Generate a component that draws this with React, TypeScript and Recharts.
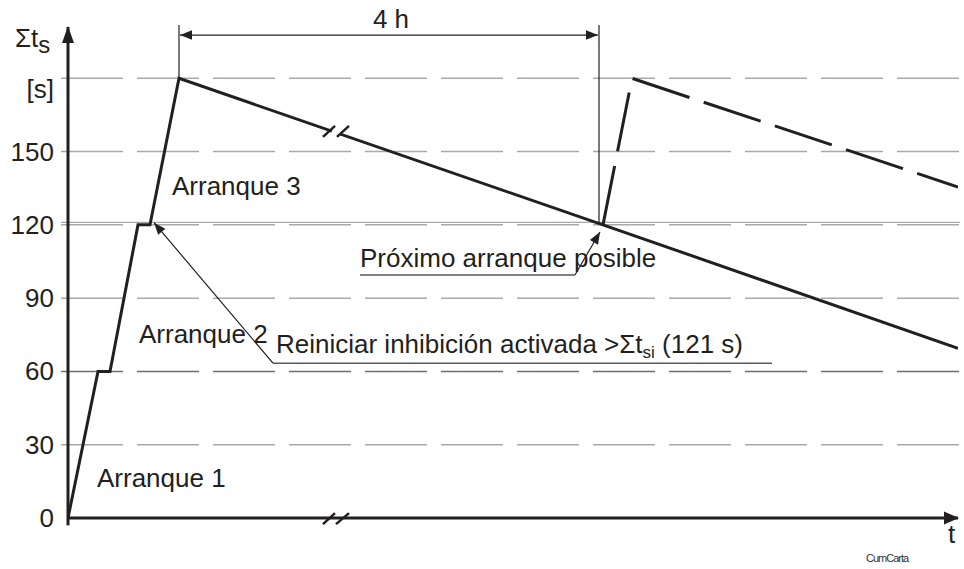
import React from 'react';
import { ComposedChart, Line, XAxis, YAxis, ReferenceLine, ReferenceDot } from 'recharts';

// time axis has no real scale (it is broken), so t is in arbitrary units
const mainTime = [0, 3.0, 4.2, 7.0, 8.2, 11.1, 53.5, 89.0];
const mainSum = [0, 60, 60, 120, 120, 180, 120, 69.5];
const nextTime = [53.5, 56.4, 89.0];
const nextSum = [120, 180, 135.5];
const yTicks = [0, 30, 60, 90, 120, 150, 180];
const gridValues = [30, 60, 90, 120, 150, 180];
const restartLimit = 121;

const mainData = mainTime.map((t, i) => ({ t, v: mainSum[i] }));
const nextData = nextTime.map((t, i) => ({ t, v: nextSum[i] }));

const ink = '#231f20';
const font = '"Liberation Sans", Arial, Helvetica, sans-serif';
const fs = 26;

function head(tx: number, ty: number, fx: number, fy: number, color: string, len = 12, half = 4.7) {
  const a = Math.atan2(ty - fy, tx - fx);
  const bx = tx - len * Math.cos(a);
  const by = ty - len * Math.sin(a);
  const nx = -Math.sin(a) * half;
  const ny = Math.cos(a) * half;
  return <polygon points={`${tx},${ty} ${bx + nx},${by + ny} ${bx - nx},${by - ny}`} fill={color} />;
}

const arrow = (opts: { start?: boolean; end?: boolean; color?: string; width?: number; len?: number; half?: number }) => (p: any) => {
  const { x1, y1, x2, y2 } = p;
  const c = opts.color || ink;
  return (
    <g>
      <line x1={x1} y1={y1} x2={x2} y2={y2} stroke={c} strokeWidth={opts.width || 1.2} />
      {opts.end && head(x2, y2, x1, y1, c, opts.len, opts.half)}
      {opts.start && head(x1, y1, x2, y2, c, opts.len, opts.half)}
    </g>
  );
};

const seg = (key: string, a: [number, number], b: [number, number], stroke: string, width: number, extra: any = {}) => (
  <ReferenceLine
    key={key}
    segment={[{ x: a[0], y: a[1] }, { x: b[0], y: b[1] }]}
    stroke={stroke}
    strokeWidth={width}
    ifOverflow="visible"
    {...extra}
  />
);

const note = (key: string, x: number, y: number, render: (cx: number, cy: number) => any) => (
  <ReferenceDot key={key} x={x} y={y} r={0} ifOverflow="visible" shape={(p: any) => render(p.cx, p.cy)} />
);

const YTick = (p: any) => {
  const v = p.payload.value;
  return (
    <text x={p.x} y={p.y} dy={v === 180 ? 20 : 9} textAnchor="end" fontSize={fs} fontFamily={font} fill={ink}>
      {v === 180 ? '[s]' : v}
    </text>
  );
};

export default function App() {
  return (
    <div style={{ position: 'absolute', left: 0, top: 0, background: '#fff' }}>
      <ComposedChart width={964} height={569} margin={{ top: 27, right: 6, bottom: 0, left: 0 }}>
        <XAxis
          dataKey="t"
          type="number"
          domain={[0, 89]}
          allowDataOverflow
          height={51}
          tick={false}
          tickLine={false}
          axisLine={{ stroke: ink, strokeWidth: 3 }}
        />
        <YAxis
          type="number"
          domain={[0, 201]}
          allowDataOverflow
          ticks={yTicks}
          interval={0}
          width={68}
          tickLine={false}
          tickMargin={8}
          tick={<YTick />}
          axisLine={{ stroke: ink, strokeWidth: 3 }}
        />

        {gridValues.map((g) =>
          seg('g' + g, [-0.7, g], [89.2, g], g === 60 ? '#6d6e71' : '#a7a9ac', 1.5, { strokeDasharray: '62 14' })
        )}
        {seg('limit', [-0.7, restartLimit], [89.2, restartLimit], '#a7a9ac', 1.2)}

        <Line data={mainData} dataKey="v" type="linear" stroke={ink} strokeWidth={3} dot={false} isAnimationActive={false} />
        <Line
          data={nextData}
          dataKey="v"
          type="linear"
          stroke={ink}
          strokeWidth={3}
          strokeDasharray="60 15"
          dot={false}
          isAnimationActive={false}
        />

        {/* axis arrows and breaks */}
        {seg('yext', [0, 0], [0, -3], ink, 3)}
        {note('yhead', 0, 201, (cx, cy) => <polygon points={`${cx},${cy - 1} ${cx - 6},${cy + 16} ${cx + 6},${cy + 16}`} fill={ink} />)}
        {note('xhead', 89, 0, (cx, cy) => <polygon points={`${cx + 1},${cy} ${cx - 14},${cy - 6.5} ${cx - 14},${cy + 6.5}`} fill={ink} />)}
        {seg('xgap', [26.0, 0], [27.5, 0], '#fff', 6)}
        {seg('xs1', [25.5, -2.5], [26.7, 2.0], ink, 2.5)}
        {seg('xs2', [26.8, -2.5], [28.1, 2.0], ink, 2.5)}
        {seg('lgap', [26.4, 158.4], [27.2, 157.2], '#fff', 7)}
        {seg('ls1', [25.5, 156.0], [26.7, 160.5], ink, 2.5)}
        {seg('ls2', [26.9, 156.0], [28.1, 160.5], ink, 2.5)}

        {/* 4 h dimension */}
        {seg('d1', [11.1, 180], [11.1, 201.8], ink, 1.2)}
        {seg('d2', [53.1, 120], [53.1, 201.8], ink, 1.2)}
        <ReferenceLine
          segment={[{ x: 11.2, y: 197.7 }, { x: 53.0, y: 197.7 }]}
          ifOverflow="visible"
          shape={arrow({ start: true, end: true })}
        />

        {/* leaders */}
        <ReferenceLine
          segment={[{ x: 20.5, y: 63.4 }, { x: 8.6, y: 120.9 }]}
          ifOverflow="visible"
          shape={arrow({ end: true, width: 1.2 })}
        />
        {seg('u1', [20.5, 63.4], [70.4, 63.4], '#58595b', 1.5)}
        <ReferenceLine
          segment={[{ x: 50.7, y: 99.5 }, { x: 53.2, y: 117.1 }]}
          ifOverflow="visible"
          shape={arrow({ end: true, width: 1.2 })}
        />
        {seg('u2', [29.2, 99.5], [50.7, 99.5], '#58595b', 1.5)}

        {/* texts */}
        {note('ylab', -5.3, 192.8, (cx, cy) => (
          <text x={cx} y={cy} fontSize={fs} fontFamily={font} fill={ink}>
            Σt<tspan dy={6} fontSize={24}>s</tspan>
          </text>
        ))}
        {note('xlab', 88.0, -10.2, (cx, cy) => (
          <text x={cx} y={cy} fontSize={fs} fontFamily={font} fill={ink}>t</text>
        ))}
        {note('4h', 32.3, 200.6, (cx, cy) => (
          <text x={cx} y={cy} textAnchor="middle" fontSize={fs} fontFamily={font} fill={ink}>4 h</text>
        ))}
        {note('a3', 10.4, 132.2, (cx, cy) => (
          <text x={cx} y={cy} fontSize={fs} fontFamily={font} fill={ink}>Arranque 3</text>
        ))}
        {note('a2', 7.1, 71.6, (cx, cy) => (
          <text x={cx} y={cy} fontSize={fs} fontFamily={font} fill={ink}>Arranque 2</text>
        ))}
        {note('a1', 2.9, 12.7, (cx, cy) => (
          <text x={cx} y={cy} fontSize={fs} fontFamily={font} fill={ink}>Arranque 1</text>
        ))}
        {note('next', 29.2, 102.7, (cx, cy) => (
          <text x={cx} y={cy} fontSize={fs} fontFamily={font} fill={ink}>Próximo arranque posible</text>
        ))}
        {note('reset', 20.8, 67.5, (cx, cy) => (
          <text x={cx} y={cy} fontSize={fs} fontFamily={font} fill={ink}>
            Reiniciar inhibición activada &gt;Σt<tspan dy={5} fontSize={17}>si</tspan>
            <tspan dy={-5}> (121 s)</tspan>
          </text>
        ))}
        {note('wm', 79.8, -18, (cx, cy) => (
          <text x={cx} y={cy} fontSize={11} fontFamily={font} fill="#333" letterSpacing={-1}>CumCarta</text>
        ))}
      </ComposedChart>
    </div>
  );
}
